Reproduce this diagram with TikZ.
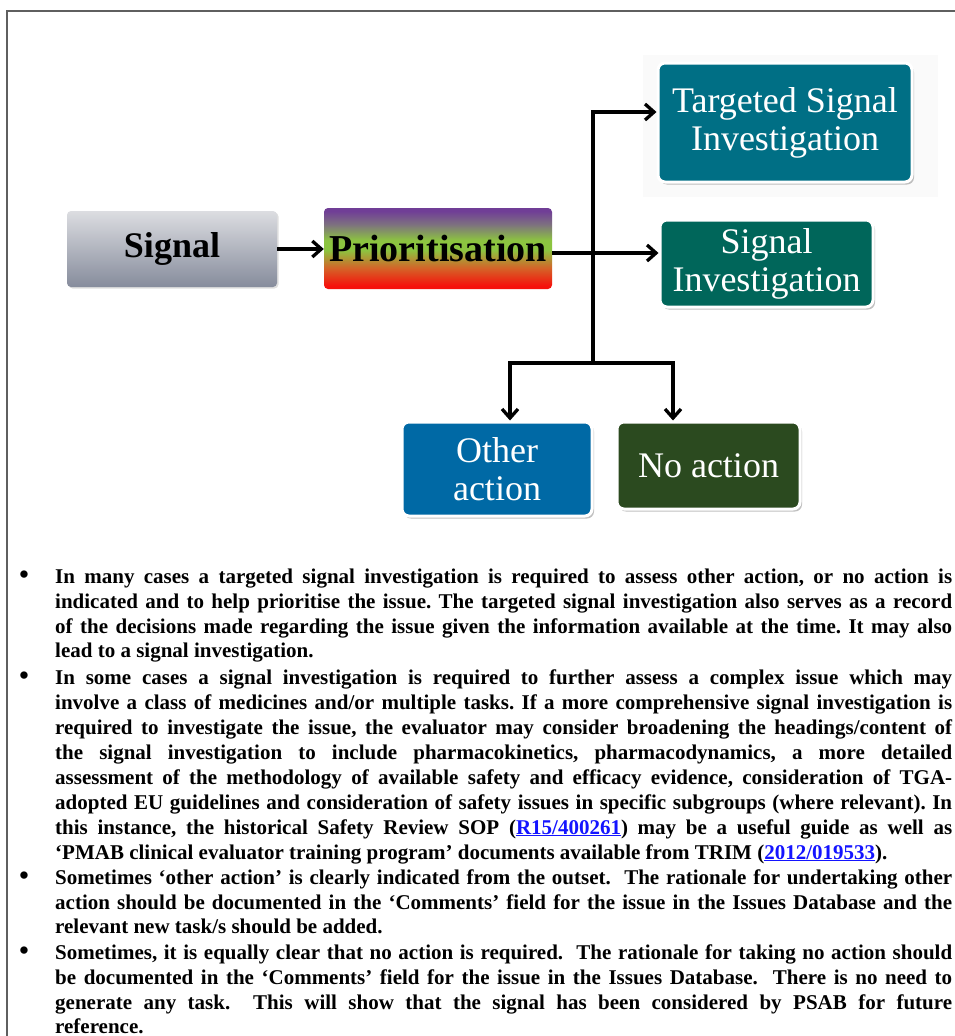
\documentclass[tikz,border=0pt]{standalone}
\usepackage{fontspec}
\setmainfont{Liberation Serif}
\usetikzlibrary{arrows.meta,shadows,calc}

% palette
\definecolor{framegray}{RGB}{95,95,95}
\definecolor{tsicol}{RGB}{0,111,133}
\definecolor{sicol}{RGB}{0,102,90}
\definecolor{oacol}{RGB}{0,105,165}
\definecolor{nacol}{RGB}{43,74,31}
\definecolor{sigtop}{RGB}{220,221,225}
\definecolor{sigbot}{RGB}{134,140,156}
\definecolor{pred}{RGB}{245,18,12}
\definecolor{porange}{RGB}{212,100,40}
\definecolor{pgreen}{RGB}{140,196,64}
\definecolor{pmid}{RGB}{125,112,128}
\definecolor{ppurple}{RGB}{112,62,150}
\definecolor{linkblue}{RGB}{20,20,255}

% purple-green-red vertical blend for the prioritisation box
\pgfdeclareverticalshading{prioshade}{100bp}{%
  color(0bp)=(pred); color(27bp)=(pred); color(38bp)=(porange);
  color(49bp)=(pgreen); color(55bp)=(pgreen); color(65bp)=(pmid);
  color(73bp)=(ppurple); color(100bp)=(ppurple)}

\newcommand\jrow[3]{\node[bodytext] (#1) at (55,#2) {\makebox[897pt][s]{#3}};}
\newcommand\frow[3]{\node[bodytext] (#1) at (55,#2) {#3};}
\newcommand\bul[2]{\node[bulletmark] (#1) at (24,#2) {•};}
\newcommand\lnk[1]{\textcolor{linkblue}{\underline{#1}}}

\tikzset{
  colbox/.style={rectangle, rounded corners=7pt, draw=white, line width=3pt,
    text=white, align=center, inner sep=0pt,
    font=\fontsize{36}{38}\selectfont,
    drop shadow={shadow xshift=2pt, shadow yshift=-2.5pt, opacity=0.35, fill=black!70}},
  flatbox/.style={rectangle, rounded corners=4pt, inner sep=0pt, text=black,
    font=\bfseries\fontsize{36}{40}\selectfont},
  conn/.style={line width=3.3pt, black,
    -{Straight Barb[length=9pt, width=16pt]}},
  bodytext/.style={anchor=base west, inner sep=0pt,
    font=\bfseries\fontsize{21}{25}\selectfont\frenchspacing},
  bulletmark/.style={anchor=base, inner sep=0pt,
    font=\bfseries\fontsize{27}{25}\selectfont},
}

\begin{document}
\begin{tikzpicture}[x=1pt, y=-1pt]
\useasboundingbox (0,0) rectangle (955,1036);
\fill[white] (0,0) rectangle (955,1036);

% page frame
\draw[framegray, line width=2.5pt] (7,1040) -- (7,11) -- (958,11);

% faint backdrop behind the targeted box
\fill[black!2] (643,55) rectangle (938,197);

% flow boxes
\node[flatbox, minimum width=210pt, minimum height=76pt,
      top color=sigtop, bottom color=sigbot,
      drop shadow={shadow xshift=1.5pt, shadow yshift=-1.5pt, opacity=0.25}]
      (sig) at (172,249) {Signal};
\node[flatbox, minimum width=228pt, minimum height=81pt, shade, shading=prioshade,
      font=\bfseries\fontsize{38}{40}\selectfont]
      (prio) at (438,248.5) {Prioritisation};
\node[colbox, fill=tsicol, minimum width=254pt, minimum height=119pt]
      (tsi) at (785,122.5) {Targeted Signal\\Investigation};
\node[colbox, fill=sicol, minimum width=213pt, minimum height=87pt]
      (sinv) at (766.5,263.5) {Signal\\Investigation};
\node[colbox, fill=oacol, minimum width=190pt, minimum height=94pt]
      (oth) at (497,469) {Other\\action};
\node[colbox, fill=nacol, minimum width=183pt, minimum height=87pt]
      (noa) at (708.5,465.5) {No action};

% connectors
\coordinate (j)  at (593,253);
\coordinate (jt) at (593,112);
\coordinate (jb) at (593,363);
\draw[conn] (sig.east) -- (sig.east -| prio.west);
\draw[conn] (prio.east |- j) -- (sinv.west |- j);
\draw[conn] (jb) -- (jt) -- (tsi.west |- jt);
\draw[conn] (jb) -| ([xshift=13pt]oth.north);
\draw[conn] (jb) -| ([xshift=-35.5pt]noa.north);

% notes
\bul{u1}{583}
\jrow{r1}{583}{In many cases a targeted signal investigation is required to assess other action, or no action is}
\jrow{r2}{608}{indicated and to help prioritise the issue. The targeted signal investigation also serves as a record}
\jrow{r3}{633}{of the decisions made regarding the issue given the information available at the time. It may also}
\frow{r4}{657}{lead to a signal investigation.}

\bul{u2}{684}
\jrow{r5}{684}{In some cases a signal investigation is required to further assess a complex issue which may}
\jrow{r6}{709}{involve a class of medicines and/or multiple tasks. If a more comprehensive signal investigation is}
\jrow{r7}{734}{required to investigate the issue, the evaluator may consider broadening the headings/content of}
\jrow{r8}{759}{the signal investigation to include pharmacokinetics, pharmacodynamics, a more detailed}
\jrow{r9}{784}{assessment of the methodology of available safety and efficacy evidence, consideration of TGA-}
\jrow{r10}{809}{adopted EU guidelines and consideration of safety issues in specific subgroups (where relevant). In}
\jrow{r11}{834}{this instance, the historical Safety Review SOP (\lnk{R15/400261}) may be a useful guide as well as}
\frow{r12}{859}{‘PMAB clinical evaluator training program’ documents available from TRIM (\lnk{2012/019533}).}

\bul{u3}{884}
\jrow{r13}{884}{Sometimes ‘other action’ is clearly indicated from the outset.\ \ The rationale for undertaking other}
\jrow{r14}{909}{action should be documented in the ‘Comments’ field for the issue in the Issues Database and the}
\frow{r15}{933}{relevant new task/s should be added.}

\bul{u4}{959}
\jrow{r16}{959}{Sometimes, it is equally clear that no action is required.\ \ The rationale for taking no action should}
\jrow{r17}{984}{be documented in the ‘Comments’ field for the issue in the Issues Database.\ \ There is no need to}
\jrow{r18}{1009}{generate any task.\ \ This will show that the signal has been considered by PSAB for future}
\frow{r19}{1033}{reference.}
\end{tikzpicture}
\end{document}
